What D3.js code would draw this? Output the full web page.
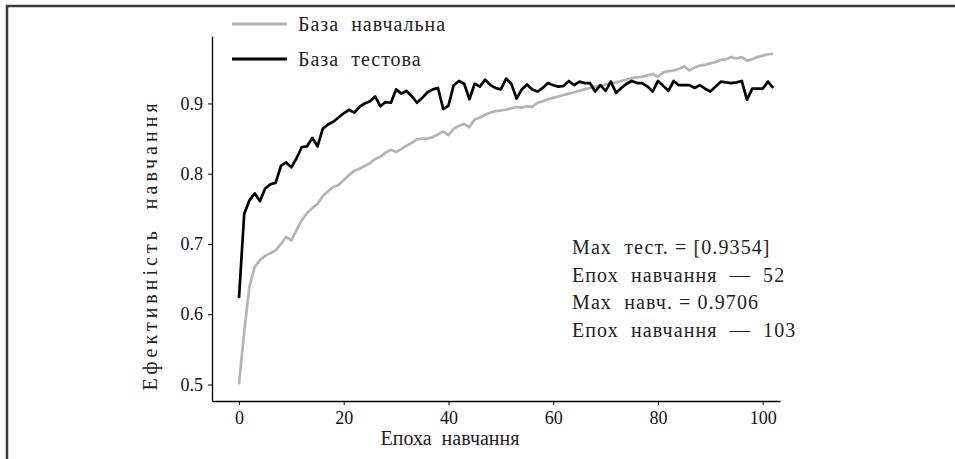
<!DOCTYPE html>
<html>
<head>
<meta charset="utf-8">
<script src="https://cdn.jsdelivr.net/npm/d3@7"></script>
<style>
  body { margin: 0; background: #fff; }
  svg { display: block; }
</style>
</head>
<body>
<svg id="chart" width="955" height="459"></svg>
<script>
// accuracy per epoch (index 0..102)
const trainAcc = [
  0.500, 0.575, 0.640, 0.667, 0.677, 0.683, 0.687, 0.691, 0.700, 0.710,
  0.705, 0.720, 0.734, 0.744, 0.751, 0.757, 0.768, 0.775, 0.781, 0.784,
  0.791, 0.798, 0.804, 0.807, 0.811, 0.815, 0.821, 0.824, 0.830, 0.834,
  0.831, 0.835, 0.840, 0.844, 0.849, 0.850, 0.850, 0.852, 0.856, 0.860,
  0.855, 0.864, 0.868, 0.871, 0.866, 0.877, 0.880, 0.884, 0.887, 0.889,
  0.890, 0.891, 0.893, 0.895, 0.894, 0.896, 0.895, 0.901, 0.903, 0.906,
  0.908, 0.910, 0.912, 0.914, 0.916, 0.918, 0.920, 0.922, 0.924, 0.925,
  0.927, 0.929, 0.930, 0.932, 0.934, 0.936, 0.937, 0.938, 0.940, 0.942,
  0.938, 0.944, 0.946, 0.947, 0.949, 0.953, 0.947, 0.951, 0.954, 0.955,
  0.957, 0.959, 0.962, 0.963, 0.966, 0.964, 0.966, 0.961, 0.963, 0.966,
  0.968, 0.970, 0.9706
];
const testAcc = [
  0.623, 0.743, 0.762, 0.772, 0.761, 0.779, 0.785, 0.787, 0.811, 0.816,
  0.809, 0.822, 0.838, 0.839, 0.851, 0.839, 0.864, 0.870, 0.874, 0.880,
  0.886, 0.891, 0.887, 0.895, 0.900, 0.903, 0.910, 0.896, 0.902, 0.901,
  0.920, 0.914, 0.918, 0.910, 0.901, 0.908, 0.916, 0.920, 0.922, 0.892,
  0.897, 0.926, 0.932, 0.928, 0.906, 0.928, 0.924, 0.934, 0.926, 0.922,
  0.920, 0.9354, 0.928, 0.907, 0.920, 0.927, 0.920, 0.917, 0.922, 0.929,
  0.926, 0.924, 0.925, 0.932, 0.926, 0.931, 0.929, 0.929, 0.917, 0.926,
  0.918, 0.931, 0.915, 0.922, 0.928, 0.932, 0.929, 0.929, 0.924, 0.917,
  0.932, 0.925, 0.918, 0.932, 0.926, 0.926, 0.926, 0.922, 0.926, 0.921,
  0.917, 0.924, 0.931, 0.930, 0.929, 0.930, 0.932, 0.905, 0.921, 0.921,
  0.921, 0.931, 0.922
];
const xTicks = [0, 20, 40, 60, 80, 100];
const yTicks = [0.5, 0.6, 0.7, 0.8, 0.9];
const seriesNames = ["База  навчальна", "База  тестова"];
const notes = [
  "Max  тест. = [0.9354]",
  "Епох  навчання  —  52",
  "Max  навч. = 0.9706",
  "Епох  навчання  —  103"
];

const FONT = "Liberation Serif";
const svg = d3.select("#chart");

// outer frame (top and left edges only)
svg.append("path")
  .attr("d", "M7,459 L7,6 L955,6")
  .style("fill", "none")
  .style("stroke", "#3a3a3a")
  .style("stroke-width", 2.5);

const x = d3.scaleLinear().domain([-5.15, 103.3]).range([212, 780]);
const y = d3.scaleLinear().domain([0.4765, 0.996]).range([401, 36]);

// axes
const xAxis = svg.append("g")
  .attr("transform", "translate(0,401)")
  .call(d3.axisBottom(x).tickValues(xTicks).tickFormat(d3.format("d")).tickSize(4).tickSizeOuter(0).tickPadding(6));

const yAxis = svg.append("g")
  .attr("transform", "translate(212,0)")
  .call(d3.axisLeft(y).tickValues(yTicks).tickFormat(d3.format(".1f")).tickSize(4).tickSizeOuter(0).tickPadding(5));

[xAxis, yAxis].forEach(g => {
  g.attr("font-family", FONT).attr("font-size", 18);
  g.selectAll("path.domain").style("stroke", "#000").style("stroke-width", 1.3);
  g.selectAll(".tick line").style("stroke", "#000").style("stroke-width", 1);
  g.selectAll(".tick text").attr("font-family", FONT).style("fill", "#111");
});

// lines
const line = d3.line()
  .x((d, i) => x(i))
  .y(d => y(d));

svg.append("path")
  .datum(trainAcc)
  .attr("d", line)
  .style("fill", "none")
  .style("stroke", "#b4b4b4")
  .style("stroke-width", 2.7)
  .style("stroke-linejoin", "round");

svg.append("path")
  .datum(testAcc)
  .attr("d", line)
  .style("fill", "none")
  .style("stroke", "#000")
  .style("stroke-width", 2.7)
  .style("stroke-linejoin", "round");

// legend
const legendColors = ["#b4b4b4", "#000"];
const legendRows = [24, 59];
seriesNames.forEach((name, i) => {
  svg.append("line")
    .attr("x1", 232).attr("x2", 287)
    .attr("y1", legendRows[i]).attr("y2", legendRows[i])
    .style("stroke", legendColors[i])
    .style("stroke-width", i === 0 ? 2.8 : 3.2);
  svg.append("text")
    .attr("x", 298)
    .attr("y", legendRows[i] + 7)
    .attr("font-family", FONT)
    .attr("font-size", 20)
    .attr("xml:space", "preserve")
    .style("letter-spacing", "1px")
    .style("fill", "#222")
    .text(name);
});

// annotation block
notes.forEach((t, i) => {
  svg.append("text")
    .attr("x", 572)
    .attr("y", 254 + i * 27.7)
    .attr("font-family", FONT)
    .attr("font-size", 20)
    .attr("xml:space", "preserve")
    .style("letter-spacing", "1.1px")
    .style("fill", "#222")
    .text(t);
});

// axis labels
svg.append("text")
  .attr("x", 450)
  .attr("y", 445)
  .attr("font-family", FONT)
  .attr("font-size", 20)
  .attr("xml:space", "preserve")
  .style("text-anchor", "middle")
  .style("fill", "#222")
  .text("Епоха  навчання");

svg.append("text")
  .attr("transform", "translate(157,245) rotate(-90)")
  .attr("font-family", FONT)
  .attr("font-size", 20)
  .attr("xml:space", "preserve")
  .style("text-anchor", "middle")
  .style("letter-spacing", "4px")
  .style("fill", "#222")
  .text("Ефективність  навчання");
</script>
</body>
</html>
